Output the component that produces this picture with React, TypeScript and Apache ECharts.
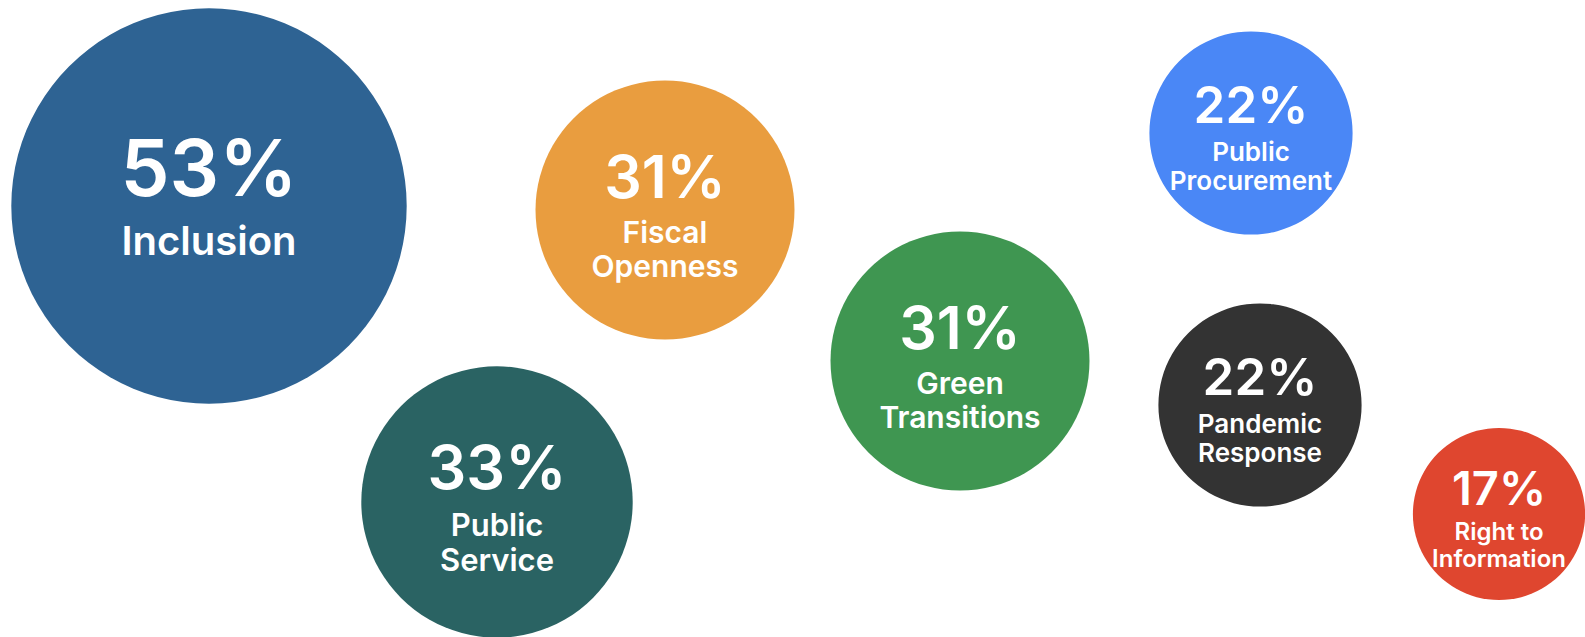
import React, { useEffect, useRef } from "react";
import * as echarts from "echarts";

const categories = [
  "Inclusion",
  "Public\nService",
  "Fiscal\nOpenness",
  "Green\nTransitions",
  "Public\nProcurement",
  "Pandemic\nResponse",
  "Right to\nInformation",
];
const shares = [53, 33, 31, 31, 22, 22, 17];
// layout coordinates of the bubble centres (chart units)
const xPos = [209, 497, 665, 960, 1251, 1260, 1499];
const yPos = [206, 502, 210, 361, 133, 405, 514];
const colors = ["#2E6393", "#2A6363", "#E99D3F", "#3F9651", "#4A87F6", "#333333", "#DF462F"];

const radiusOf = (v: number) => 33.4 + 3.1 * v;

export default function App() {
  const ref = useRef<HTMLDivElement>(null);
  useEffect(() => {
    if (!ref.current) return;
    document.body.style.margin = "0";
    document.body.style.overflow = "hidden";
    const chart = echarts.init(ref.current, null, { renderer: "svg" });
    const data = shares.map((v, i) => {
      const r = radiusOf(v);
      const pf = Math.round(23 + 0.28 * r);
      const lf = Math.round(12 + 0.14 * r);
      const singleLine = !categories[i].includes("\n");
      return {
        value: [xPos[i], yPos[i], v],
        name: categories[i],
        symbolSize: r * 2,
        itemStyle: { color: colors[i], opacity: 1 },
        label: {
          padding: singleLine ? [0, 0, Math.round(lf * 0.8), 0] : 0,
          rich: {
            p: { fontSize: pf, lineHeight: Math.round(pf * 1.3), fontWeight: 600, color: "#ffffff", fontFamily: "Inter" },
            n: { fontSize: lf, lineHeight: Math.round(lf * 1.12), fontWeight: 600, color: "#ffffff", fontFamily: "Inter" },
          },
        },
      };
    });
    chart.setOption({
      animation: false,
      backgroundColor: "#ffffff",
      grid: { left: 0, right: 0, top: 0, bottom: 0 },
      xAxis: { type: "value", min: 0, max: 1585, show: false },
      yAxis: { type: "value", min: 0, max: 637, inverse: true, show: false },
      series: [
        {
          type: "scatter",
          symbol: "circle",
          data,
          itemStyle: { opacity: 1 },
          label: {
            show: true,
            position: "inside",
            align: "center",
            opacity: 1,
            formatter: (p: any) => {
              const lines = String(p.name).split("\n").map((s: string) => `{n|${s}}`).join("\n");
              return `{p|${p.value[2]}%}\n${lines}`;
            },
          },
          emphasis: { disabled: true },
        },
      ],
    });
    return () => chart.dispose();
  }, []);
  return <div ref={ref} style={{ width: 1585, height: 637 }} />;
}
